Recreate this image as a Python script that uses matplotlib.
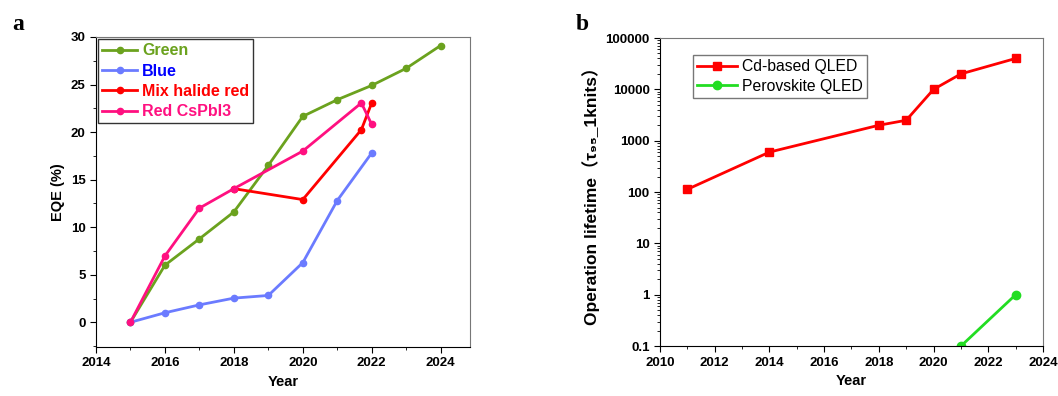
import matplotlib
matplotlib.use("Agg")
import matplotlib.pyplot as plt
from matplotlib.ticker import MultipleLocator, LogLocator, NullFormatter

plt.rcParams['font.family'] = ['Liberation Sans', 'DejaVu Sans', 'Noto Sans CJK SC']
plt.rcParams['font.weight'] = 'bold'

# panel a data
green_x = [2015, 2016, 2017, 2018, 2019, 2020, 2021, 2022, 2023, 2024]
green_y = [0, 6.0, 8.77, 11.6, 16.5, 21.65, 23.4, 24.9, 26.7, 29.1]
blue_x = [2015, 2016, 2017, 2018, 2019, 2020, 2021, 2022]
blue_y = [0, 1.0, 1.83, 2.54, 2.82, 6.27, 12.8, 17.8]
mix_x = [2018, 2020, 2021.7, 2022]
mix_y = [14.05, 12.9, 20.25, 23.06]
cspbi_x = [2015, 2016, 2017, 2018, 2020, 2021.7, 2022]
cspbi_y = [0, 6.97, 12.0, 14.05, 18.0, 23.06, 20.8]

# panel b data
cd_x = [2011, 2014, 2018, 2019, 2020, 2021, 2023]
cd_y = [113, 600, 2000, 2500, 10000, 20000, 40000]
pero_x = [2021, 2023]
pero_y = [0.1, 1]

c_green = '#6BA21E'
c_blue = '#6B7BFF'
c_red = '#FF0000'
c_pink = '#FF1080'

fig = plt.figure(figsize=(10.58, 3.96), dpi=100)
ax1 = fig.add_axes([0.0907, 0.1237, 0.3535, 0.783])
ax2 = fig.add_axes([0.6238, 0.126, 0.362, 0.778])

lw = 2
ms = 4.5
ax1.plot(green_x, green_y, '-o', color=c_green, lw=lw, ms=ms, label='Green')
ax1.plot(blue_x, blue_y, '-o', color=c_blue, lw=lw, ms=ms, label='Blue')
ax1.plot(mix_x, mix_y, '-o', color=c_red, lw=lw, ms=ms, label='Mix halide red')
ax1.plot(cspbi_x, cspbi_y, '-o', color=c_pink, lw=lw, ms=ms, label='Red CsPbI3')

ax1.set_xlim(2014, 2024.85)
ax1.set_ylim(-2.6, 30)
ax1.xaxis.set_major_locator(MultipleLocator(2))
ax1.xaxis.set_minor_locator(MultipleLocator(1))
ax1.yaxis.set_major_locator(MultipleLocator(5))
ax1.yaxis.set_minor_locator(MultipleLocator(2.5))
ax1.set_xlabel('Year', fontsize=10.5, fontweight='bold')
ax1.set_ylabel('EQE (%)', fontsize=10.5, fontweight='bold')

leg1 = ax1.legend(loc='upper left', frameon=True, fancybox=False,
                  edgecolor='black', handlelength=2.2, handletextpad=0.3,
                  borderpad=0.25, labelspacing=0.33, borderaxespad=0.15,
                  prop={'weight': 'bold', 'size': 11.5})
for txt, col in zip(leg1.get_texts(), [c_green, '#0000FF', c_red, c_pink]):
    txt.set_color(col)

ax2.plot(cd_x, cd_y, '-s', color=c_red, lw=lw, ms=6, label='Cd-based QLED')
ax2.plot(pero_x, pero_y, '-o', color='#22DD22', lw=lw, ms=6, label='Perovskite QLED')
ax2.set_yscale('log')
ax2.set_xlim(2010, 2024)
ax2.set_ylim(0.1, 100000)
ax2.xaxis.set_major_locator(MultipleLocator(2))
ax2.xaxis.set_minor_locator(MultipleLocator(1))
ax2.yaxis.set_minor_locator(LogLocator(base=10, subs=range(2, 10), numticks=20))
ax2.yaxis.set_minor_formatter(NullFormatter())
ax2.set_yticks([0.1, 1, 10, 100, 1000, 10000, 100000])
ax2.set_yticklabels(['0.1', '1', '10', '100', '1000', '10000', '100000'])
ax2.set_xlabel('Year', fontsize=10.5, fontweight='bold')
ax2.set_ylabel('Operation lifetime（τ₉₅_1knits）', fontsize=12.5, fontweight='bold')

leg2 = ax2.legend(loc='upper left', bbox_to_anchor=(0.065, 0.97), frameon=True,
                  fancybox=False, edgecolor='#555555', handlelength=2.6,
                  handletextpad=0.3, borderpad=0.25, labelspacing=0.3,
                  prop={'weight': 'normal', 'size': 11.3})

for ax in (ax1, ax2):
    ax.tick_params(which='both', direction='out', labelsize=9.5)
    ax.tick_params(which='major', length=4)
    ax.tick_params(which='minor', length=2)
    ax.tick_params(top=False, right=False)
    for s in ax.spines.values():
        s.set_linewidth(0.8)
    for lab in ax.get_xticklabels() + ax.get_yticklabels():
        lab.set_fontweight('bold')
    for s in ('top', 'right'):
        ax.spines[s].set_color('#777777')

fig.text(0.012, 0.965, 'a', fontsize=17, fontweight='bold', family='Liberation Serif',
         va='top')
fig.text(0.544, 0.965, 'b', fontsize=17, fontweight='bold', family='Liberation Serif',
         va='top')

fig.savefig('out.png', dpi=100)
